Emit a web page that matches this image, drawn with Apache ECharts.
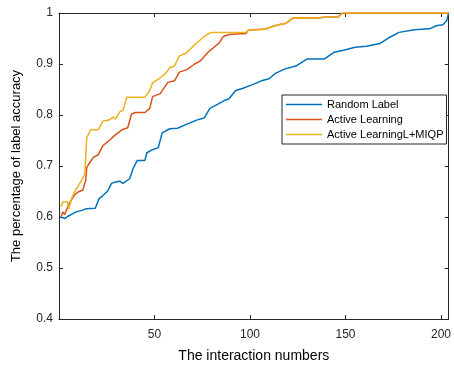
<!DOCTYPE html>
<html>
<head>
<meta charset="utf-8">
<script src="https://cdn.jsdelivr.net/npm/echarts@6/dist/echarts.min.js"></script>
<style>html,body{margin:0;padding:0;background:#fff;}#c{width:454px;height:368px;}</style>
</head>
<body>
<div id="c"></div>
<script>
var seriesNames = ['Random Label', 'Active Learning', 'Active LearningL+MIQP'];
var xTicks = [0, 50, 100, 150, 200];
var yTicks = [0.4, 0.5, 0.6, 0.7, 0.8, 0.9, 1];

var randomX = [1, 3, 4.5, 7, 9, 12, 14, 19, 21, 23, 25.5, 27.5, 30, 32, 33.5, 37, 39, 41, 45, 46, 49, 52, 54, 58, 62, 67, 72, 76, 79, 82, 87, 89, 92.5, 96, 101, 106, 110, 113, 118, 124, 130, 139, 144, 149, 155, 161, 168, 173, 178, 186, 194, 197.5, 201, 203, 204];
var randomY = [0.600, 0.597, 0.601, 0.606, 0.610, 0.613, 0.616, 0.617, 0.636, 0.642, 0.651, 0.666, 0.669, 0.670, 0.666, 0.675, 0.697, 0.711, 0.711, 0.726, 0.732, 0.736, 0.765, 0.773, 0.774, 0.782, 0.790, 0.794, 0.813, 0.819, 0.829, 0.832, 0.848, 0.852, 0.859, 0.867, 0.871, 0.881, 0.890, 0.896, 0.910, 0.910, 0.923, 0.927, 0.933, 0.935, 0.940, 0.952, 0.962, 0.967, 0.969, 0.975, 0.977, 0.985, 1.0];

var activeX = [1, 2, 3, 5, 8, 10, 12.5, 14, 14.5, 15.5, 18, 20.5, 23, 26, 29.5, 33, 36, 38, 40, 45, 47.5, 49, 53, 57, 60.5, 63, 67, 71, 74, 78, 80, 84, 86, 89, 98, 99, 106, 108, 110, 112, 115, 119, 121, 122.5, 135.5, 140, 146, 148.5, 204];
var activeY = [0.600, 0.610, 0.605, 0.624, 0.643, 0.649, 0.653, 0.672, 0.697, 0.703, 0.717, 0.722, 0.740, 0.749, 0.761, 0.771, 0.775, 0.802, 0.805, 0.805, 0.813, 0.836, 0.842, 0.864, 0.867, 0.884, 0.889, 0.900, 0.906, 0.923, 0.929, 0.942, 0.954, 0.958, 0.960, 0.966, 0.968, 0.968, 0.971, 0.974, 0.977, 0.980, 0.986, 0.990, 0.990, 0.992, 0.992, 1.0, 1.0];

var miqpX = [1, 2, 4.5, 5, 7, 9, 10, 12.5, 13.5, 14.5, 16.5, 20.5, 23, 26, 28.5, 29.5, 32, 33.5, 35.5, 45, 47.5, 49, 53, 56, 58, 60.5, 63, 66.5, 70, 73, 76, 79.5, 98, 99, 108, 110, 112, 115, 119, 121, 122.5, 135.5, 140, 146, 148.5, 204];
var miqpY = [0.620, 0.630, 0.630, 0.615, 0.640, 0.655, 0.660, 0.676, 0.684, 0.755, 0.771, 0.771, 0.788, 0.790, 0.796, 0.792, 0.807, 0.809, 0.835, 0.835, 0.848, 0.863, 0.873, 0.882, 0.893, 0.896, 0.916, 0.921, 0.934, 0.944, 0.954, 0.962, 0.962, 0.966, 0.968, 0.971, 0.974, 0.977, 0.980, 0.986, 0.990, 0.990, 0.992, 0.992, 1.0, 1.0];

function zip(xs, ys) { return xs.map(function (x, i) { return [x, ys[i]]; }); }

var colors = ['#0072BD', '#D95319', '#EDB120'];
var axisColor = '#262626';
var fontFam = '"Liberation Sans", Arial, sans-serif';

var chart = echarts.init(document.getElementById('c'), null, { renderer: 'canvas' });

function xAx(pos, main) {
  return {
    type: 'value', position: pos, min: xTicks[0], max: 204, interval: 50,
    name: main ? 'The interaction numbers' : '', nameLocation: 'middle', nameGap: 30,
    nameTextStyle: { fontSize: 14, color: '#000', fontFamily: fontFam },
    axisLine: { show: true, onZero: false, lineStyle: { color: axisColor, width: 1 } },
    axisTick: { show: true, inside: true, length: 4, lineStyle: { color: axisColor } },
    axisLabel: { show: main, margin: 10, fontSize: 12, color: '#262626', fontFamily: fontFam, showMinLabel: false, showMaxLabel: false },
    splitLine: { show: false }
  };
}
function yAx(pos, main) {
  return {
    type: 'value', position: pos, min: yTicks[0], max: yTicks[yTicks.length - 1], interval: 0.1,
    name: main ? 'The percentage of label accuracy' : '', nameLocation: 'middle', nameGap: 36, nameRotate: 90,
    nameTextStyle: { fontSize: 13, color: '#000', fontFamily: fontFam },
    axisLine: { show: true, onZero: false, lineStyle: { color: axisColor, width: 1 } },
    axisTick: { show: true, inside: true, length: 4, lineStyle: { color: axisColor } },
    axisLabel: { show: main, margin: 6, fontSize: 12, color: '#262626', fontFamily: fontFam,
      formatter: function (v) { return String(Math.round(v * 10) / 10); } },
    splitLine: { show: false }
  };
}

var datas = [zip(randomX, randomY), zip(activeX, activeY), zip(miqpX, miqpY)];

chart.setOption({
  animation: false,
  backgroundColor: '#fff',
  color: colors,
  grid: { left: 59, right: 1, top: 13, bottom: 44, containLabel: false },
  xAxis: [xAx('bottom', true), xAx('top', false)],
  yAxis: [yAx('left', true), yAx('right', false)],
  legend: {
    orient: 'vertical', left: 282, top: 95,
    data: seriesNames.map(function (n) { return { name: n, icon: 'rect' }; }),
    backgroundColor: '#fff', borderColor: axisColor, borderWidth: 1, borderRadius: 0,
    padding: [3, 3, 3, 4], itemWidth: 36, itemHeight: 1.5, itemGap: 2,
    textStyle: { fontSize: 11, color: '#000', fontFamily: fontFam, lineHeight: 13 }
  },
  series: seriesNames.map(function (n, i) {
    return {
      name: n, type: 'line', xAxisIndex: 0, yAxisIndex: 0,
      data: datas[i], symbol: 'none', showSymbol: false, smooth: false,
      lineStyle: { width: 1.5, color: colors[i] }, itemStyle: { color: colors[i] },
      clip: true, z: 2 + i
    };
  })
});
</script>
</body>
</html>
